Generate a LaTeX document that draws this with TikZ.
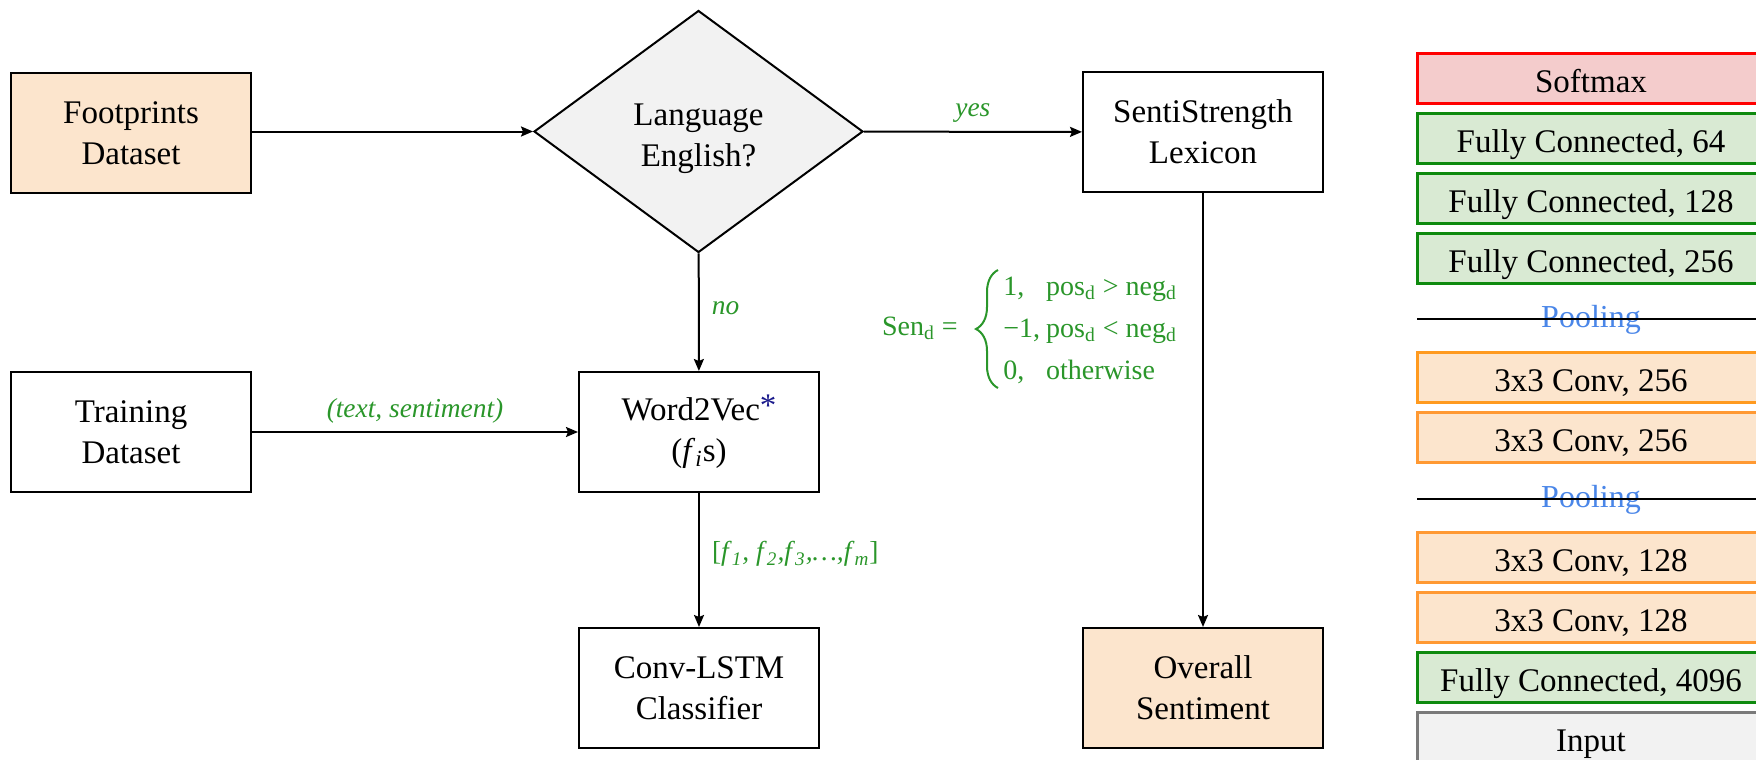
\documentclass[tikz,border=0pt]{standalone}
\usepackage{fontspec}
\setmainfont{Liberation Serif}
\usetikzlibrary{shapes.geometric,arrows.meta,decorations.pathreplacing}

\definecolor{peach}{HTML}{FCE5CD}
\definecolor{paleGray}{HTML}{F2F2F2}
\definecolor{paleRed}{HTML}{F4CCCC}
\definecolor{paleGreen}{HTML}{D9EAD3}
\definecolor{lineRed}{HTML}{FF0000}
\definecolor{lineGreen}{HTML}{0E8A0E}
\definecolor{lineOrange}{HTML}{FF9A1F}
\definecolor{lineOrangeB}{HTML}{FF9933}
\definecolor{lineGray}{HTML}{7A7A7A}
\definecolor{labelGreen}{HTML}{2A962A}
\definecolor{poolBlue}{HTML}{4A86E8}
\definecolor{starBlue}{HTML}{1A1A8C}

\begin{document}
\begin{tikzpicture}[x=0.5pt,y=-0.5pt,
  txt/.style={font=\fontsize{16.5}{20.5}\selectfont},
  mainbox/.style={txt, draw, line width=1pt, minimum width=120pt, minimum height=60pt,
    align=center, inner sep=2pt},
  decision/.style={diamond, draw, line width=1pt, fill=paleGray, minimum width=164.5pt,
    minimum height=121pt, inner sep=0pt},
  arr/.style={line width=1pt, -{Stealth[length=6pt,width=5pt,inset=1pt]}},
  lbl/.style={font=\fontsize{13.7}{16}\selectfont\itshape, text=labelGreen, inner sep=1pt},
  formula/.style={font=\fontsize{14}{21}\selectfont, text=labelGreen, inner sep=0pt},
  layer/.style={txt, draw, line width=1.5pt, minimum width=174pt, minimum height=25pt,
    inner sep=0pt, text height=15.5pt, text depth=1.5pt},
  softmax/.style={layer, draw=lineRed, fill=paleRed},
  dense/.style={layer, draw=lineGreen, fill=paleGreen},
  conv/.style={layer, draw=lineOrange, fill=peach},
  convb/.style={layer, draw=lineOrangeB, fill=peach},
  inlayer/.style={layer, draw=lineGray, fill=paleGray},
  pool/.style={font=\fontsize{16}{19}\selectfont, text=poolBlue, inner sep=0pt},
  poolline/.style={line width=0.9pt, black},
  bracestyle/.style={draw=labelGreen, line width=1pt, decorate,
    decoration={brace, amplitude=11pt}}
]
\useasboundingbox (0,0) rectangle (1756,760);
\clip (0,0) rectangle (1756,760);

% ---------- flow chart ----------
\node[mainbox, fill=peach] (foot) at (131,133) {Footprints\\Dataset};
\node[decision] (lang) at (698.5,131.5) {};
\node[txt, align=center, inner sep=0pt] (langtext) at (698.5,139) {Language\\English?};
\node[mainbox] (senti) at (1203,132) {SentiStrength\\Lexicon};
\node[mainbox] (train) at (131,432) {Training\\Dataset};
\node[mainbox] (w2v) at (699,432)
  {Word2Vec\raisebox{2pt}{\textcolor{starBlue}{*}}\\(\textit{f}\textsubscript{\textit{i}}s)};
\node[mainbox] (clf) at (699,688) {Conv-LSTM\\Classifier};
\node[mainbox, fill=peach] (overall) at (1203,688) {Overall\\Sentiment};

\draw[arr] (foot.east |- lang.west) -- (lang);
\draw[arr] (lang) -- node[lbl, above=3pt] {yes} (senti);
\draw[arr] (lang) -- node[lbl, right=5pt, yshift=2pt] {no} (w2v);
\draw[arr] (train) -- node[lbl, above=3pt] {(text, sentiment)} (w2v);
\draw[arr] (w2v) -- node[lbl, right=5pt, yshift=3pt, font=\fontsize{13.7}{16}\selectfont, text=labelGreen]
  {[\textit{f}\textsubscript{\textit{1}}\textit{,} \textit{f}\textsubscript{\textit{2}}\textit{,}\textit{f}\textsubscript{\textit{3}}\textit{,\ldots,}\textit{f}\textsubscript{\textit{m}}]} (clf);
\draw[arr] (senti) -- (overall);

% ---------- sentiment rule ----------
\node[formula, anchor=base east] (senlhs) at (958,335) {Sen\textsubscript{d} =};
\node[formula, anchor=west] (cases) at (1003,329)
  {\begin{tabular}{@{}l@{\hspace{3pt}}l@{}}
   1, & pos\textsubscript{d} > neg\textsubscript{d}\\
   −1, & pos\textsubscript{d} < neg\textsubscript{d}\\
   0, & otherwise
   \end{tabular}};
\coordinate (bracetop) at (998,270);
\coordinate (bracebot) at (998,388);
\draw[bracestyle] (bracebot) -- (bracetop);

% ---------- layer stack ----------
\node[softmax] (l1) at (1591,78) {Softmax};
\node[dense] (l2) at (1591,138) {Fully Connected, 64};
\node[dense] (l3) at (1591,198) {Fully Connected, 128};
\node[dense] (l4) at (1591,258) {Fully Connected, 256};
\node[pool, anchor=base] (p1) at (1591,327) {Pooling};
\draw[poolline] (1417,319) -- (1765,319);
\node[conv] (l5) at (1591,377) {3x3 Conv, 256};
\node[convb] (l6) at (1591,437) {3x3 Conv, 256};
\node[pool, anchor=base] (p2) at (1591,507) {Pooling};
\draw[poolline] (1417,499) -- (1765,499);
\node[convb] (l7) at (1591,557) {3x3 Conv, 128};
\node[convb] (l8) at (1591,617) {3x3 Conv, 128};
\node[dense] (l9) at (1591,677) {Fully Connected, 4096};
\node[inlayer] (l10) at (1591,737) {Input};
\end{tikzpicture}
\end{document}
